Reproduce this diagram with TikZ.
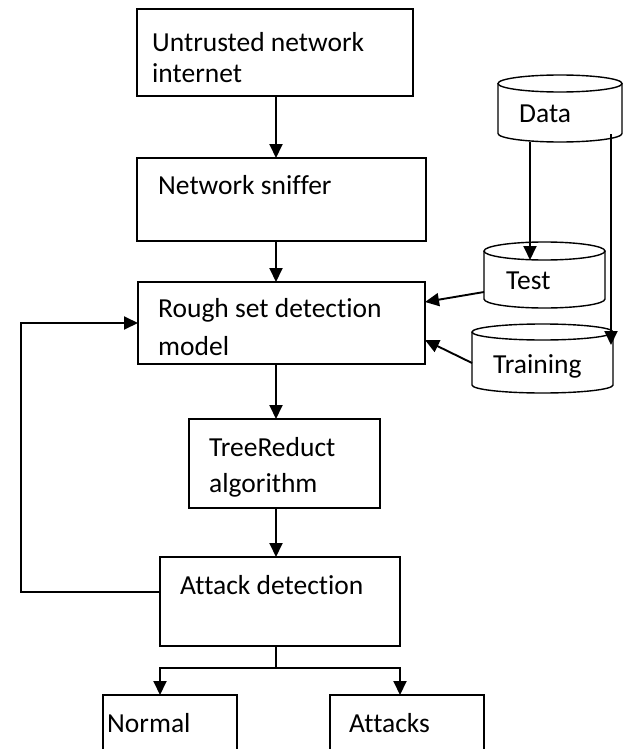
\documentclass[tikz,border=0pt]{standalone}
\usepackage{fontspec}
\setmainfont{Carlito}[Ligatures=NoCommon]
\usetikzlibrary{arrows.meta}

% database drum drawn around a named (invisible) node: #1 name, #2 x radius, #3 y radius
\newcommand\dbshape[3]{%
  \draw[dbline] ([yshift=-#3]#1.north west) -- ([yshift=#3]#1.south west)
    arc[start angle=180, end angle=360, x radius=#2, y radius=#3]
    -- ([yshift=-#3]#1.north east);
  \draw[dbline] ([yshift=-#3]#1.north) ellipse[x radius=#2, y radius=#3];
}

\begin{document}
\begin{tikzpicture}[x=1pt, y=-1pt,
  box/.style={draw, line width=1.4pt, inner sep=0pt, outer sep=0pt},
  dbnode/.style={inner sep=0pt, outer sep=0pt},
  lbl/.style={anchor=base west, inner sep=0pt, font=\fontsize{27.5pt}{32pt}\selectfont},
  arr/.style={line width=1.9pt, -{Triangle[length=14pt, width=13pt]}},
  link/.style={line width=1.6pt},
  dbline/.style={line width=1.4pt}]
\useasboundingbox (0,0) rectangle (625,749);
\clip (0,0) rectangle (625,749);

% main processing chain
\node[box, minimum width=276pt, minimum height=87pt] (untrusted) at (275,52.5) {};
\node[box, minimum width=289pt, minimum height=83pt] (sniffer) at (281.5,199.5) {};
\node[box, minimum width=287pt, minimum height=82pt] (rough) at (281.5,323) {};
\node[box, minimum width=191pt, minimum height=89pt] (tree) at (284.5,463.5) {};
\node[box, minimum width=240pt, minimum height=89pt] (attack) at (280,601.5) {};
\node[box, minimum width=134pt, minimum height=70pt] (normal) at (170,730) {};
\node[box, minimum width=154pt, minimum height=70pt] (attacks) at (407,730) {};

\node[lbl] (untrustedA) at (152,52) {Untrusted network};
\node[lbl] (untrustedB) at (152,83) {internet};
\node[lbl] (snifferA) at (158,194) {Network sniffer};
\node[lbl] (roughA) at (158,317) {Rough set detection};
\node[lbl] (roughB) at (158,355) {model};
\node[lbl] (treeA) at (209,456) {TreeReduct};
\node[lbl] (treeB) at (209,492) {algorithm};
\node[lbl] (attackA) at (180,594) {Attack detection};
\node[lbl] (normalA) at (107,732) {Normal};
\node[lbl] (attacksA) at (349,732) {Attacks};

% data stores
\node[dbnode, minimum width=124pt, minimum height=67pt] (data) at (560,108.5) {};
\node[dbnode, minimum width=121pt, minimum height=66pt] (test) at (544.5,275) {};
\node[dbnode, minimum width=141pt, minimum height=69pt] (training) at (542.5,358.5) {};
\dbshape{data}{62pt}{8.5pt}
\dbshape{test}{60.5pt}{9pt}
\dbshape{training}{70.5pt}{8pt}
\node[lbl] (dataA) at (519,123) {Data};
\node[lbl] (testA) at (506,289) {Test};
\node[lbl] (trainingA) at (493,373) {Training};

% connectors
\coordinate (spine) at (276,0);
\draw[arr] (untrusted.south -| spine) -- (sniffer.north -| spine);
\draw[arr] (sniffer.south -| spine) -- (rough.north -| spine);
\draw[arr] (rough.south -| spine) -- (tree.north -| spine);
\draw[arr] (tree.south -| spine) -- (attack.north -| spine);

\draw[arr] ([yshift=9.5pt]attack.west) -- ++(-139pt,0) |- (rough.west);

\draw[link] (attack.south -| spine) -- ++(0,-22pt) coordinate (fork);
\draw[arr] (fork) -| (normal.north -| attack.west);
\draw[arr] (fork) -| (attacks.north -| attack.east);

\coordinate (testin) at (530,260);
\draw[arr] (data.south -| testin) -- (testin);
\coordinate (datatap) at (611,134);
\coordinate (trainin) at (611,345);
\draw[arr] (datatap) -- (trainin);

\draw[arr] ([yshift=-17pt]test.west) -- ([yshift=21pt]rough.east);
\draw[arr] ([yshift=-4.5pt]training.west) -- ([yshift=-17pt]rough.east);
\end{tikzpicture}
\end{document}
